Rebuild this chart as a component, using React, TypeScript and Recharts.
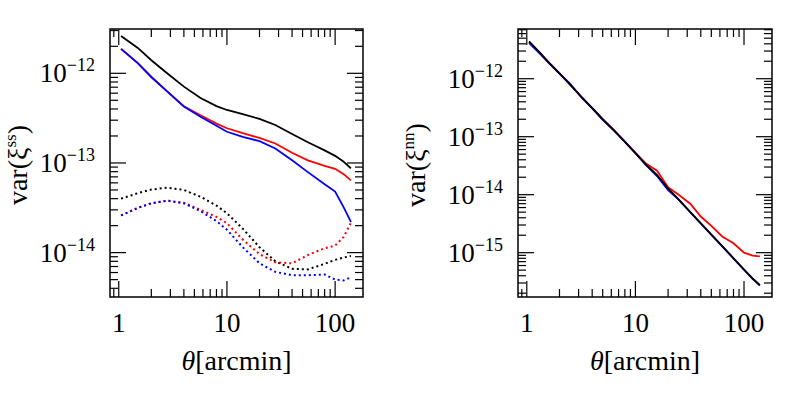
import { LineChart, Line, XAxis, YAxis, ReferenceArea } from "recharts";

// left panel: var(xi^ss)
const thetaSS = [1.05, 1.5, 2, 2.8, 4, 5.7, 8, 10, 14, 20, 28, 40, 56, 80, 100, 120, 140];
const ssBlack = [2.6e-12, 1.92e-12, 1.4e-12, 1.0e-12, 7.1e-13, 5.3e-13, 4.3e-13, 3.9e-13, 3.5e-13, 3.1e-13, 2.65e-13, 2.1e-13, 1.7e-13, 1.38e-13, 1.2e-13, 1.03e-13, 8.7e-14];
const ssRed = [1.87e-12, 1.3e-12, 9.1e-13, 6.3e-13, 4.3e-13, 3.4e-13, 2.75e-13, 2.44e-13, 2.15e-13, 1.9e-13, 1.65e-13, 1.3e-13, 1.07e-13, 9.3e-14, 8.6e-14, 7.5e-14, 6.4e-14];
const ssBlue = [1.87e-12, 1.3e-12, 9.1e-13, 6.3e-13, 4.25e-13, 3.28e-13, 2.6e-13, 2.23e-13, 1.95e-13, 1.75e-13, 1.45e-13, 1.07e-13, 7.9e-14, 5.8e-14, 4.8e-14, 3.2e-14, 2.2e-14];
const ssBlackDot = [4.0e-14, 4.6e-14, 5.05e-14, 5.3e-14, 5.0e-14, 4.2e-14, 3.35e-14, 2.75e-14, 1.85e-14, 1.15e-14, 8.0e-15, 6.6e-15, 6.5e-15, 7.5e-15, 8.3e-15, 8.8e-15, 9.2e-15];
const ssRedDot = [2.6e-14, 3.15e-14, 3.55e-14, 3.8e-14, 3.6e-14, 3.0e-14, 2.5e-14, 2.13e-14, 1.4e-14, 9.6e-15, 7.8e-15, 7.6e-15, 9.4e-15, 1.12e-14, 1.2e-14, 1.5e-14, 2.15e-14];
const ssBlueDot = [2.6e-14, 3.15e-14, 3.55e-14, 3.8e-14, 3.55e-14, 2.9e-14, 2.25e-14, 1.8e-14, 1.15e-14, 7.6e-15, 6.1e-15, 5.6e-15, 5.6e-15, 5.7e-15, 5.0e-15, 4.9e-15, 5.3e-15];

// right panel: var(xi^nn)
const thetaNN = [1.05, 1.3, 1.6, 2, 2.5, 3.2, 4, 5, 6.3, 8, 10, 12.6, 15.8, 20, 25, 32, 40, 50, 63, 80, 100, 120, 140];
const nnBlack = [4.4e-12, 2.9e-12, 1.9e-12, 1.23e-12, 7.9e-13, 4.8e-13, 3.1e-13, 2.0e-13, 1.3e-13, 8.1e-14, 5.2e-14, 3.25e-14, 2.2e-14, 1.28e-14, 8.3e-15, 5.0e-15, 3.2e-15, 2.05e-15, 1.3e-15, 8.0e-16, 5.1e-16, 3.55e-16, 2.77e-16];
const nnRed = [4.3e-12, 2.85e-12, 1.9e-12, 1.25e-12, 8.0e-13, 4.8e-13, 3.1e-13, 2.0e-13, 1.32e-13, 8.2e-14, 5.3e-14, 3.4e-14, 2.6e-14, 1.35e-14, 1.0e-14, 7.0e-15, 4.2e-15, 2.9e-15, 1.9e-15, 1.45e-15, 1.0e-15, 8.9e-16, 8.6e-16];
const nnBlue = [4.1e-12, 2.8e-12, 1.85e-12, 1.22e-12, 8.2e-13, 4.7e-13, 3.1e-13, 1.95e-13, 1.3e-13, 8.2e-14, 5.2e-14, 3.2e-14, 2.1e-14, 1.2e-14, 8.2e-15, 5.0e-15, 3.2e-15, 2.05e-15, 1.28e-15, 8.0e-16, 5.1e-16, 3.6e-16, 2.7e-16];

const xTicks = [0.9, 1, 2, 3, 4, 5, 6, 7, 8, 9, 10, 20, 30, 40, 50, 60, 70, 80, 90, 100];
const yTicksSS = [4e-15, 5e-15, 6e-15, 7e-15, 8e-15, 9e-15, 1e-14, 2e-14, 3e-14, 4e-14, 5e-14, 6e-14, 7e-14, 8e-14, 9e-14, 1e-13, 2e-13, 3e-13, 4e-13, 5e-13, 6e-13, 7e-13, 8e-13, 9e-13, 1e-12, 2e-12, 3e-12];
const yTicksNN = [2e-16, 3e-16, 4e-16, 5e-16, 6e-16, 7e-16, 8e-16, 9e-16, 1e-15, 2e-15, 3e-15, 4e-15, 5e-15, 6e-15, 7e-15, 8e-15, 9e-15, 1e-14, 2e-14, 3e-14, 4e-14, 5e-14, 6e-14, 7e-14, 8e-14, 9e-14, 1e-13, 2e-13, 3e-13, 4e-13, 5e-13, 6e-13, 7e-13, 8e-13, 9e-13, 1e-12, 2e-12, 3e-12, 4e-12, 5e-12, 6e-12, 7e-12];

const xDomain: [number, number] = [0.83, 181];

const pts = (xs: number[], ys: number[]) => xs.map((t, i) => ({ t, v: ys[i] }));

const FONT = "Liberation Serif";
const TOP = 29;
const BOTTOM = 297;
const isMajor = (v: number) => Math.abs(Math.log10(v) - Math.round(Math.log10(v))) < 1e-6;

const makeXTick = () => (props: any) => {
  const { x, payload } = props;
  const len = isMajor(payload.value) ? 16 : 8;
  return (
    <g>
      <line x1={x} x2={x} y1={BOTTOM} y2={BOTTOM - len} stroke="#000" strokeWidth={1.2} />
      <line x1={x} x2={x} y1={TOP} y2={TOP + len} stroke="#000" strokeWidth={1.2} />
      {isMajor(payload.value) && payload.value >= 1 && (
        <text x={x} y={332} textAnchor="middle" fontFamily={FONT} fontSize={27} fill="#000">
          {payload.value}
        </text>
      )}
    </g>
  );
};

const makeYTick = (left: number, right: number) => (props: any) => {
  const { y, payload } = props;
  const major = isMajor(payload.value);
  const len = major ? 16 : 8;
  const exp = Math.round(Math.log10(payload.value));
  return (
    <g>
      <line x1={left} x2={left + len} y1={y} y2={y} stroke="#000" strokeWidth={1.2} />
      <line x1={right} x2={right - len} y1={y} y2={y} stroke="#000" strokeWidth={1.2} />
      {major && (
        <text x={left - 15} y={y + 9} textAnchor="end" fontFamily={FONT} fontSize={27} fill="#000">
          10
          <tspan dy={-11} fontSize={18}>{"\u2212" + Math.abs(exp)}</tspan>
        </text>
      )}
    </g>
  );
};

const xLabel = (cx: number) => () => (
  <text x={cx} y={370} textAnchor="middle" fontFamily={FONT} fontSize={28} fill="#000">
    <tspan fontStyle="italic">θ</tspan>[arcmin]
  </text>
);

const yLabel = (cx: number, cy: number, sup: string) => () => (
  <text x={cx} y={cy} textAnchor="middle" fontFamily={FONT} fontSize={28} fill="#000" transform={`rotate(-90, ${cx}, ${cy})`}>
    var(ξ
    <tspan dy={-11} fontSize={17}>{sup}</tspan>
    <tspan dy={11}>)</tspan>
  </text>
);

interface PanelProps {
  left: number;
  width: number;
  axisWidth: number;
  plotLeft: number;
  plotRight: number;
  labelX: number;
  yDomain: [number, number];
  yTicks: number[];
  sup: string;
  series: { data: { t: number; v: number }[]; color: string; dotted?: boolean }[];
}

const Panel = ({ left, width, axisWidth, plotLeft, plotRight, labelX, yDomain, yTicks, sup, series }: PanelProps) => (
  <div style={{ position: "absolute", left, top: 0 }}>
    <LineChart width={width} height={396} margin={{ top: TOP, right: width - (plotRight - left), bottom: 0, left: 0 }}>
      <XAxis
        dataKey="t"
        type="number"
        scale="log"
        domain={xDomain}
        allowDataOverflow
        ticks={xTicks}
        interval={0}
        height={99}
        tickLine={false}
        axisLine={false}
        tick={makeXTick()}
        label={xLabel((plotLeft + plotRight) / 2 - left)}
      />
      <YAxis
        type="number"
        scale="log"
        domain={yDomain}
        allowDataOverflow
        ticks={yTicks}
        interval={0}
        width={axisWidth}
        tickLine={false}
        axisLine={false}
        tick={makeYTick(plotLeft - left, plotRight - left)}
        label={yLabel(labelX - left, 165, sup)}
      />
      <ReferenceArea
        x1={xDomain[0]}
        x2={xDomain[1]}
        y1={yDomain[0]}
        y2={yDomain[1]}
        fill="none"
        fillOpacity={0}
        stroke="#000"
        strokeWidth={1.5}
        strokeOpacity={1}
      />
      {series.map((s, i) => (
        <Line
          key={i}
          data={s.data}
          dataKey="v"
          stroke={s.color}
          strokeWidth={s.dotted ? 2 : 1.8}
          strokeDasharray={s.dotted ? "2 3" : undefined}
          dot={false}
          isAnimationActive={false}
        />
      ))}
    </LineChart>
  </div>
);

export default function App() {
  return (
    <div style={{ position: "absolute", left: 0, top: 0, width: 789, height: 396, background: "#fff" }}>
      <Panel
        left={0}
        width={380}
        axisWidth={110}
        plotLeft={110}
        plotRight={363}
        labelX={27}
        yDomain={[3.2e-15, 3.12e-12]}
        yTicks={yTicksSS}
        sup="ss"
        series={[
          { data: pts(thetaSS, ssBlackDot), color: "#000", dotted: true },
          { data: pts(thetaSS, ssRedDot), color: "#ff0000", dotted: true },
          { data: pts(thetaSS, ssBlueDot), color: "#0000ff", dotted: true },
          { data: pts(thetaSS, ssBlack), color: "#000" },
          { data: pts(thetaSS, ssRed), color: "#ff0000" },
          { data: pts(thetaSS, ssBlue), color: "#0000ff" },
        ]}
      />
      <Panel
        left={400}
        width={389}
        axisWidth={118}
        plotLeft={518}
        plotRight={772}
        labelX={425}
        yDomain={[1.72e-16, 7.2e-12]}
        yTicks={yTicksNN}
        sup="nn"
        series={[
          { data: pts(thetaNN, nnRed), color: "#ff0000" },
          { data: pts(thetaNN, nnBlue), color: "#0000ff" },
          { data: pts(thetaNN, nnBlack), color: "#000" },
        ]}
      />
    </div>
  );
}
